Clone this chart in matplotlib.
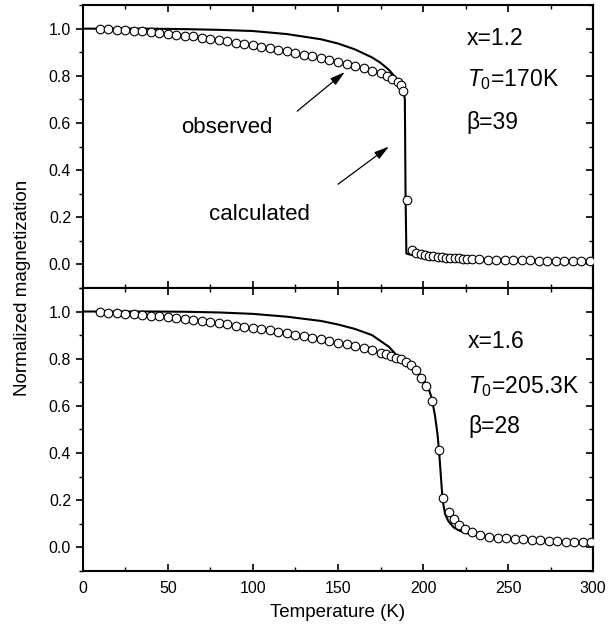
import numpy as np
import matplotlib.pyplot as plt
from matplotlib.ticker import MultipleLocator

plt.rcParams['font.family'] = ['Liberation Sans', 'DejaVu Sans']
plt.rcParams['mathtext.fontset'] = 'custom'
plt.rcParams['mathtext.rm'] = 'Liberation Sans'
plt.rcParams['mathtext.it'] = 'Liberation Sans:italic'

# x = 1.2 sample, observed points
t_obs_a = [10, 15, 20, 25, 30, 35, 40, 45, 50, 55, 60, 65, 70, 75, 80, 85, 90, 95,
           100, 105, 110, 115, 120, 125, 130, 135, 140, 145, 150, 155, 160, 165,
           170, 175, 179, 182, 185, 187, 188.5, 190.5,
           193.5, 196, 198.5, 201, 203.5, 206, 208.5, 211, 213.5, 216, 218.5, 221,
           223.5, 226, 228.5, 233, 238, 243, 248, 253, 258, 263, 268, 273, 278,
           283, 288, 293, 298]
m_obs_a = [0.998, 0.997, 0.995, 0.993, 0.991, 0.988, 0.985, 0.982, 0.979, 0.975,
           0.971, 0.967, 0.962, 0.957, 0.952, 0.946, 0.941, 0.936, 0.93, 0.924,
           0.918, 0.911, 0.904, 0.897, 0.89, 0.882, 0.874, 0.866, 0.858, 0.85,
           0.841, 0.832, 0.822, 0.81, 0.798, 0.786, 0.775, 0.762, 0.735, 0.275,
           0.062, 0.05, 0.044, 0.04, 0.037, 0.034, 0.032, 0.03, 0.028, 0.027,
           0.026, 0.025, 0.024, 0.023, 0.022, 0.021, 0.02, 0.019, 0.019, 0.018,
           0.017, 0.017, 0.016, 0.016, 0.015, 0.015, 0.015, 0.014, 0.014]

# x = 1.2 sample, calculated curve
t_calc_a = [0, 20, 40, 60, 80, 100, 120, 140, 150, 160, 170, 175, 180, 183, 185,
            187, 188.5, 189.3, 189.7, 190.2, 192, 195, 200, 210, 220, 240, 260,
            280, 300]
m_calc_a = [1.0, 1.0, 1.0, 0.998, 0.995, 0.99, 0.977, 0.955, 0.937, 0.912,
            0.878, 0.855, 0.825, 0.8, 0.785, 0.765, 0.745, 0.7, 0.3, 0.046,
            0.042, 0.038, 0.034, 0.029, 0.026, 0.021, 0.018, 0.016, 0.014]

# x = 1.6 sample, observed points
t_obs_b = [10, 15, 20, 25, 30, 35, 40, 45, 50, 55, 60, 65, 70, 75, 80, 85, 90, 95,
           100, 105, 110, 115, 120, 125, 130, 135, 140, 145, 150, 155, 160, 165,
           170, 175, 178, 181, 184, 187, 190, 193, 196, 199, 202, 205.5, 209.5,
           212, 215, 218, 221, 224.5, 228.5, 233.5, 239, 244, 249, 254, 259, 264,
           269, 274, 279, 284, 289, 294, 299]
m_obs_b = [0.997, 0.995, 0.993, 0.991, 0.988, 0.985, 0.982, 0.979, 0.976, 0.972,
           0.968, 0.964, 0.96, 0.955, 0.95, 0.945, 0.94, 0.935, 0.93, 0.925,
           0.92, 0.914, 0.908, 0.902, 0.896, 0.889, 0.882, 0.875, 0.868, 0.861,
           0.853, 0.845, 0.836, 0.826, 0.82, 0.812, 0.804, 0.797, 0.787, 0.772,
           0.75, 0.72, 0.685, 0.62, 0.415, 0.21, 0.15, 0.12, 0.097, 0.08, 0.066,
           0.052, 0.046, 0.042, 0.039, 0.036, 0.034, 0.032, 0.03, 0.028, 0.026,
           0.025, 0.024, 0.023, 0.022]

# x = 1.6 sample, calculated curve
t_calc_b = [0, 20, 40, 60, 80, 100, 120, 140, 150, 160, 170, 180, 185, 190, 195,
            200, 203, 205, 207, 208.5, 209.5, 210.5, 211.5, 213, 215, 218, 221,
            225, 230, 240, 250, 260, 280, 300]
m_calc_b = [1.0, 1.0, 1.0, 0.999, 0.996, 0.99, 0.978, 0.96, 0.945, 0.926,
            0.9, 0.85, 0.81, 0.787, 0.755, 0.715, 0.68, 0.635, 0.56, 0.48,
            0.4, 0.3, 0.2, 0.14, 0.11, 0.085, 0.072, 0.062, 0.053, 0.043,
            0.037, 0.032, 0.026, 0.021]

fig = plt.figure(figsize=(6.09, 6.37), dpi=100)
ax1 = fig.add_axes([0.136, 0.548, 0.838, 0.444])
ax2 = fig.add_axes([0.136, 0.1036, 0.838, 0.4444], sharex=ax1)

for ax, tc, mc, to, mo in [(ax1, t_calc_a, m_calc_a, t_obs_a, m_obs_a),
                           (ax2, t_calc_b, m_calc_b, t_obs_b, m_obs_b)]:
    ax.plot(tc, mc, color='black', lw=1.5, zorder=2)
    ax.plot(to, mo, 'o', ms=6.2, mfc='white', mec='black', mew=0.8, zorder=3)
    ax.set_xlim(0, 300)
    ax.set_ylim(-0.1, 1.1)
    ax.yaxis.set_minor_locator(MultipleLocator(0.1))
    ax.xaxis.set_major_locator(MultipleLocator(50))
    ax.xaxis.set_minor_locator(MultipleLocator(25))
    ax.set_yticks([0, 0.2, 0.4, 0.6, 0.8, 1.0])
    ax.set_yticklabels(['0.0', '0.2', '0.4', '0.6', '0.8', '1.0'])
    ax.tick_params(axis='y', which='both', direction='out', labelsize=11.5)
    ax.tick_params(axis='y', which='major', length=5, width=1.2)
    ax.tick_params(axis='y', which='minor', length=3, width=1.0)
    ax.tick_params(axis='x', which='both', direction='in', top=True,
                   labelsize=11.5, pad=7)
    ax.tick_params(axis='x', which='major', length=5, width=1.2)
    ax.tick_params(axis='x', which='minor', length=3, width=1.0)
    for s in ax.spines.values():
        s.set_linewidth(1.5)
    # inward ticks on the right side
    sec = ax.secondary_yaxis('right')
    sec.yaxis.set_major_locator(MultipleLocator(0.2))
    sec.yaxis.set_minor_locator(MultipleLocator(0.1))
    sec.tick_params(which='both', direction='in', labelright=False)
    sec.tick_params(which='major', length=5, width=1.2)
    sec.tick_params(which='minor', length=3, width=1.0)
    sec.spines['right'].set_linewidth(1.5)

ax1.tick_params(axis='x', labelbottom=False)
ax2.set_xlabel('Temperature (K)', fontsize=13.5, labelpad=6)
fig.text(0.037, 0.548, 'Normalized magnetization', rotation=90,
         ha='center', va='center', fontsize=13.5)

txt = dict(fontsize=16.5, ha='left', va='center')
ax1.text(0.752, 0.882, 'x=1.2', transform=ax1.transAxes, **txt)
ax1.text(0.752, 0.735, r'$\mathit{T}_{0}$=170K', transform=ax1.transAxes, **txt)
ax1.text(0.752, 0.585, 'β=39', transform=ax1.transAxes, **txt)
ax2.text(0.755, 0.81, 'x=1.6', transform=ax2.transAxes, **txt)
ax2.text(0.755, 0.65, r'$\mathit{T}_{0}$=205.3K', transform=ax2.transAxes, **txt)
ax2.text(0.755, 0.51, 'β=28', transform=ax2.transAxes, **txt)

arrow = dict(arrowstyle='-|>,head_length=0.9,head_width=0.25', color='black',
             lw=0.9, shrinkA=0, shrinkB=0)
ax1.text(58, 0.58, 'observed', fontsize=16, ha='left', va='center')
ax1.annotate('', xy=(154, 0.816), xytext=(126, 0.65), arrowprops=arrow)
ax1.text(74, 0.21, 'calculated', fontsize=16, ha='left', va='center')
ax1.annotate('', xy=(180, 0.50), xytext=(150, 0.34), arrowprops=arrow)

plt.savefig('out.png', dpi=100)
